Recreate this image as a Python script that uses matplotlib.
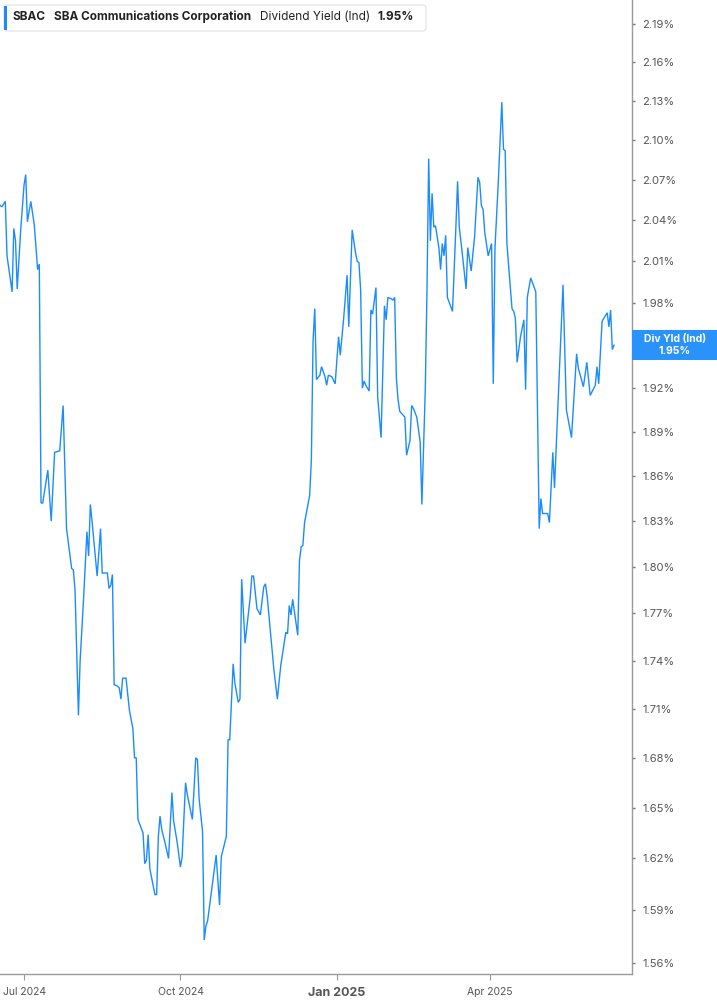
import matplotlib
matplotlib.use('Agg')
import matplotlib.pyplot as plt
from matplotlib.patches import FancyBboxPatch, Rectangle
from matplotlib.ticker import FixedLocator, NullLocator
import pandas as pd

plt.rcParams['font.family'] = ['Inter', 'DejaVu Sans']

# 数据: SBAC 股息率 (Ind), 单位 %
dates = [
    '2024-06-17', '2024-06-18', '2024-06-20', '2024-06-21', '2024-06-24', '2024-06-25', '2024-06-26',
    '2024-06-27', '2024-06-29', '2024-07-01', '2024-07-02', '2024-07-03', '2024-07-05', '2024-07-07',
    '2024-07-08', '2024-07-09', '2024-07-10', '2024-07-11', '2024-07-12', '2024-07-15', '2024-07-17',
    '2024-07-19', '2024-07-22', '2024-07-24', '2024-07-26', '2024-07-29', '2024-07-30', '2024-07-31',
    '2024-08-02', '2024-08-03', '2024-08-05', '2024-08-07', '2024-08-08', '2024-08-09', '2024-08-10',
    '2024-08-13', '2024-08-15', '2024-08-16', '2024-08-19', '2024-08-20', '2024-08-21', '2024-08-22',
    '2024-08-23', '2024-08-25', '2024-08-26', '2024-08-27', '2024-08-28', '2024-08-30', '2024-09-01',
    '2024-09-03', '2024-09-04', '2024-09-05', '2024-09-06', '2024-09-09', '2024-09-10', '2024-09-11',
    '2024-09-12', '2024-09-13', '2024-09-16', '2024-09-17', '2024-09-18', '2024-09-19', '2024-09-20',
    '2024-09-22', '2024-09-24', '2024-09-26', '2024-09-27', '2024-09-29', '2024-10-01', '2024-10-02',
    '2024-10-04', '2024-10-05', '2024-10-08', '2024-10-10', '2024-10-11', '2024-10-12', '2024-10-14',
    '2024-10-15', '2024-10-16', '2024-10-17', '2024-10-22', '2024-10-24', '2024-10-25', '2024-10-28',
    '2024-10-29', '2024-10-30', '2024-11-01', '2024-11-02', '2024-11-04', '2024-11-05', '2024-11-06',
    '2024-11-08', '2024-11-11', '2024-11-12', '2024-11-13', '2024-11-15', '2024-11-17', '2024-11-19',
    '2024-11-20', '2024-11-21', '2024-11-25', '2024-11-27', '2024-11-29', '2024-12-02', '2024-12-03',
    '2024-12-04', '2024-12-05', '2024-12-06', '2024-12-09', '2024-12-10', '2024-12-11', '2024-12-12',
    '2024-12-13', '2024-12-16', '2024-12-17', '2024-12-18', '2024-12-19', '2024-12-20', '2024-12-22',
    '2024-12-23', '2024-12-25', '2024-12-26', '2024-12-27', '2024-12-29', '2024-12-31', '2025-01-02',
    '2025-01-03', '2025-01-05', '2025-01-07', '2025-01-08', '2025-01-10', '2025-01-12', '2025-01-13',
    '2025-01-14', '2025-01-15', '2025-01-16', '2025-01-17', '2025-01-18', '2025-01-20', '2025-01-21',
    '2025-01-22', '2025-01-24', '2025-01-25', '2025-01-27', '2025-01-29', '2025-01-30', '2025-01-31',
    '2025-02-02', '2025-02-03', '2025-02-04', '2025-02-05', '2025-02-06', '2025-02-07', '2025-02-10',
    '2025-02-11', '2025-02-13', '2025-02-14', '2025-02-15', '2025-02-17', '2025-02-19', '2025-02-20',
    '2025-02-22', '2025-02-23', '2025-02-24', '2025-02-25', '2025-02-26', '2025-02-27', '2025-02-28',
    '2025-03-02', '2025-03-03', '2025-03-04', '2025-03-05', '2025-03-06', '2025-03-07', '2025-03-10',
    '2025-03-12', '2025-03-13', '2025-03-14', '2025-03-16', '2025-03-18', '2025-03-19', '2025-03-21',
    '2025-03-23', '2025-03-25', '2025-03-26', '2025-03-27', '2025-03-28', '2025-03-29', '2025-03-31',
    '2025-04-02', '2025-04-03', '2025-04-04', '2025-04-06', '2025-04-08', '2025-04-09', '2025-04-10',
    '2025-04-11', '2025-04-14', '2025-04-15', '2025-04-16', '2025-04-17', '2025-04-19', '2025-04-21',
    '2025-04-22', '2025-04-23', '2025-04-25', '2025-04-28', '2025-04-30', '2025-05-01', '2025-05-02',
    '2025-05-05', '2025-05-06', '2025-05-08', '2025-05-09', '2025-05-14', '2025-05-16', '2025-05-19',
    '2025-05-22', '2025-05-23', '2025-05-26', '2025-05-28', '2025-05-30', '2025-06-02', '2025-06-03',
    '2025-06-04', '2025-06-06', '2025-06-09', '2025-06-10', '2025-06-11', '2025-06-12', '2025-06-13',
]
yields = [
    2.051, 2.050, 2.054, 2.014, 1.988, 2.034, 2.025,
    1.990, 2.032, 2.066, 2.074, 2.039, 2.054, 2.037,
    2.021, 2.004, 2.008, 1.842, 1.842, 1.864, 1.830,
    1.876, 1.877, 1.908, 1.825, 1.799, 1.798, 1.785,
    1.706, 1.740, 1.779, 1.823, 1.807, 1.841, 1.830,
    1.794, 1.825, 1.796, 1.796, 1.786, 1.788, 1.795,
    1.725, 1.724, 1.723, 1.716, 1.729, 1.729, 1.709,
    1.698, 1.680, 1.680, 1.643, 1.635, 1.617, 1.619,
    1.634, 1.614, 1.599, 1.599, 1.633, 1.645, 1.637,
    1.629, 1.620, 1.659, 1.642, 1.630, 1.615, 1.621,
    1.665, 1.658, 1.643, 1.680, 1.679, 1.655, 1.636,
    1.573, 1.581, 1.584, 1.622, 1.593, 1.621, 1.633,
    1.691, 1.691, 1.738, 1.726, 1.714, 1.716, 1.792,
    1.751, 1.780, 1.794, 1.794, 1.773, 1.769, 1.787,
    1.789, 1.781, 1.734, 1.716, 1.737, 1.758, 1.757,
    1.775, 1.769, 1.779, 1.756, 1.804, 1.813, 1.814,
    1.829, 1.847, 1.871, 1.953, 1.976, 1.926, 1.929,
    1.935, 1.928, 1.922, 1.929, 1.928, 1.923, 1.956,
    1.943, 1.969, 2.000, 1.963, 2.033, 2.016, 2.010,
    2.009, 1.989, 1.920, 1.925, 1.922, 1.918, 1.975,
    1.972, 1.991, 1.914, 1.886, 1.978, 1.968, 1.984,
    1.983, 1.982, 1.984, 1.927, 1.912, 1.904, 1.900,
    1.874, 1.884, 1.908, 1.906, 1.900, 1.883, 1.841,
    1.919, 1.989, 2.086, 2.025, 2.060, 2.035, 2.036,
    2.020, 2.004, 2.023, 2.014, 2.029, 1.984, 1.974,
    2.035, 2.069, 2.035, 2.013, 1.990, 2.020, 2.003,
    2.028, 2.072, 2.068, 2.051, 2.048, 2.031, 2.014,
    2.023, 1.923, 2.020, 2.070, 2.129, 2.093, 2.092,
    2.023, 1.976, 1.974, 1.969, 1.938, 1.956, 1.968,
    1.919, 1.984, 1.998, 1.988, 1.825, 1.845, 1.835,
    1.835, 1.829, 1.876, 1.852, 1.993, 1.905, 1.886,
    1.944, 1.934, 1.921, 1.938, 1.915, 1.922, 1.935,
    1.923, 1.967, 1.973, 1.963, 1.975, 1.947, 1.950,
]

y_ticks = [1.56, 1.59, 1.62, 1.65, 1.68, 1.71, 1.74, 1.77, 1.80, 1.83, 1.86, 1.89,
           1.92, 1.95, 1.98, 2.01, 2.04, 2.07, 2.10, 2.13, 2.16, 2.19]
x_ticks = ['2024-07-01', '2024-10-01', '2025-01-01', '2025-04-01']
x_labels = ['Jul 2024', 'Oct 2024', 'Jan 2025', 'Apr 2025']

W, H = 717, 1005
blue = '#1a8cff'
grey = '#9a9a9a'


def fx(px):
    return px / W


def fy(py):
    return 1 - py / H


fig = plt.figure(figsize=(W / 100, H / 100), dpi=100)
ax = fig.add_axes([0, fy(974), fx(632), 974 / H])

ax.plot(pd.to_datetime(dates), yields, color=blue, lw=1.0, solid_joinstyle='miter')

# 对数坐标
ax.set_yscale('log')
ax.set_ylim(1.5538, 2.209)
ax.set_xlim(pd.Timestamp('2024-06-16 21:00'), pd.Timestamp('2025-06-23 14:00'))

# 当前值 1.95% 的刻度文字被右侧标签盖住, 这里留空
last_label = '%.2f%%' % yields[-1]
ax.yaxis.tick_right()
ax.yaxis.set_major_locator(FixedLocator(y_ticks))
ax.yaxis.set_minor_locator(NullLocator())
ax.set_yticklabels(['' if '%.2f%%' % v == last_label else '%.2f%%' % v for v in y_ticks])
ax.tick_params(axis='y', length=2.5, width=1.0, color='#777777', labelsize=8,
               labelcolor='#555555', pad=5)

ax.set_xticks(pd.to_datetime(x_ticks))
ax.set_xticklabels(x_labels)
ax.tick_params(axis='x', length=4, width=0.8, color=grey, labelsize=7.5, labelcolor='#555555', pad=5)
for lab in ax.get_xticklabels():
    if lab.get_text() == 'Jan 2025':
        lab.set_fontweight('bold')
        lab.set_fontsize(9)

for s in ['top', 'left']:
    ax.spines[s].set_visible(False)
for s in ['right', 'bottom']:
    ax.spines[s].set_color(grey)
    ax.spines[s].set_linewidth(1.0)

# 标题框
fig.patches.append(FancyBboxPatch((fx(4), fy(31)), fx(422), 26 / H,
                                  boxstyle='round,pad=0,rounding_size=0.004',
                                  transform=fig.transFigure, fc='white', ec='#e2e2e2', lw=0.8))
fig.patches.append(Rectangle((fx(4), fy(30)), fx(3), 24 / H, transform=fig.transFigure,
                             fc=blue, ec='none'))
fig.text(fx(13), fy(17), 'SBAC', fontsize=8.5, fontweight='bold', color='#222222', va='center')
fig.text(fx(54), fy(17), 'SBA Communications Corporation', fontsize=8.5, fontweight='bold',
         color='#222222', va='center')
fig.text(fx(260), fy(17), 'Dividend Yield (Ind)', fontsize=8.5, color='#222222', va='center')
fig.text(fx(377), fy(17), last_label, fontsize=8.5, fontweight='bold',
         color='#222222', va='center')

# 当前值标签
y_last = ax.transData.transform((0, yields[-1]))[1]
fig.patches.append(Rectangle((fx(632), (y_last - 15) / H), fx(85), 30 / H,
                             transform=fig.transFigure, fc='#2a93fb', ec='none', zorder=5))
fig.text(fx(675), (y_last + 6) / H, 'Div Yld (Ind)', fontsize=7.5, fontweight='bold',
         color='white', ha='center', va='center', zorder=6)
fig.text(fx(675), (y_last - 5.5) / H, last_label, fontsize=7.5, fontweight='bold',
         color='white', ha='center', va='center', zorder=6)

plt.savefig('out.png', dpi=100)
